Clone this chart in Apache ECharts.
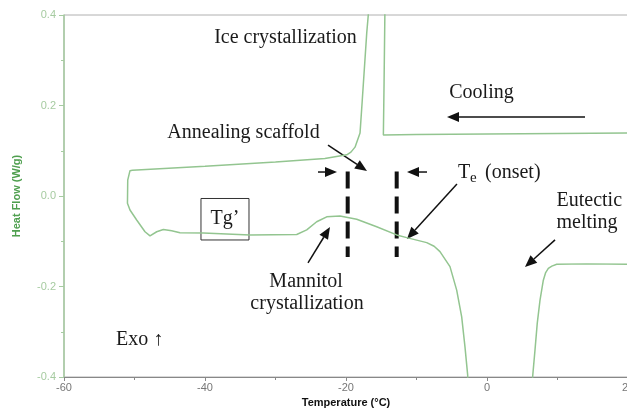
<!DOCTYPE html>
<html><head><meta charset="utf-8">
<script src="https://cdn.jsdelivr.net/npm/echarts@6/dist/echarts.min.js"></script>
<style>html,body{margin:0;padding:0;background:#fff}#c{width:627px;height:410px}</style>
</head><body><div id="c"></div>
<script>
// DSC thermogram (temperature in °C, heat flow in W/g)
const temperature = [20, 10, 0, -10, -14.7, -14.6, -14.45, -16.8,
  -16.84, -17.06, -17.69, -18.01, -18.72, -19.3, -19.9, -23, -30, -40, -50.3, -50.64,
  -50.96, -51.0, -50.64, -49.69, -48.51, -47.8, -46.85, -45.91, -44.72, -43.55,
  -40.24, -33.62, -26.99, -25.57, -24.16, -22.74, -20.85, -18.48, -15.65, -12.81,
  -11.39, -8.55, -7.5, -6.67, -5.25, -4.30, -3.59, -3.12, -2.74, -2.7,
  6.45, 6.48, 6.81, 7.13, 7.52, 7.99, 8.3, 8.70, 9.2, 9.89, 14.14, 20];
const heatFlow = [0.139, 0.138, 0.137, 0.136, 0.135, 0.25, 0.45, 0.45,
  0.40, 0.36, 0.212, 0.139, 0.108, 0.097, 0.091, 0.083, 0.075, 0.066, 0.057, 0.056,
  0.035, -0.016, -0.031, -0.053, -0.079, -0.088, -0.079, -0.074, -0.077, -0.081,
  -0.082, -0.086, -0.085, -0.075, -0.057, -0.046, -0.044, -0.0515, -0.068, -0.086,
  -0.092, -0.103, -0.111, -0.123, -0.156, -0.208, -0.267, -0.334, -0.396, -0.45,
  -0.45, -0.398, -0.340, -0.281, -0.230, -0.186, -0.170, -0.160, -0.155, -0.151, -0.150, -0.151];

const xTickValues = [-60, -40, -20, 0, 20];
const yTickValues = [-0.4, -0.2, 0.0, 0.2, 0.4];

// annotations, in data coordinates
const arrows = [
  [-22.55, 0.1127, -17.02, 0.0553],   // annealing scaffold
  [-23.97, 0.053, -21.28, 0.053],     // left small arrow
  [-8.51, 0.053, -11.35, 0.053],      // right small arrow
  [-4.26, 0.0265, -11.35, -0.095],    // Te onset
  [9.65, -0.097, 5.39, -0.157],       // eutectic melting
  [-25.39, -0.148, -22.27, -0.0685],  // mannitol
  [13.9, 0.1746, -5.67, 0.1746]       // cooling
];
const dashedLines = [[-19.76, 0.054, -19.76, -0.135], [-12.81, 0.054, -12.81, -0.135]];
const labels = [
  ['Ice crystallization', -28.58, 0.349, 'center'],
  ['Cooling', -0.78, 0.2276, 'center'],
  ['Annealing scaffold', -34.54, 0.1392, 'center'],
  ['Eutectic', 9.86, -0.0104, 'left'],
  ['melting', 9.86, -0.059, 'left'],
  ['Tg\u2019', -37.16, -0.0508, 'center'],
  ['Mannitol', -25.67, -0.189, 'center'],
  ['crystallization', -25.53, -0.2387, 'center'],
  ['Exo \u2191', -52.62, -0.318, 'left']
];
const tgBox = [-40.57, -0.0055, -33.76, -0.0972];
const teLabel = [-4.11, 0.051];

const chart = echarts.init(document.getElementById('c'));
const green = '#a6cba1';
chart.setOption({
  animation: false,
  grid: {left: 64, top: 15, width: 564, height: 362, show: true, borderColor: '#b0b0b0', borderWidth: 1,
    containLabel: false, outerBoundsMode: 'none'},
  xAxis: {
    type: 'value', min: -60, max: 20, interval: 20,
    name: 'Temperature (\u00b0C)', nameLocation: 'middle', nameGap: 15,
    nameTextStyle: {fontFamily: 'Liberation Sans', fontSize: 11, fontWeight: 'bold', color: '#111'},
    axisLine: {onZero: false, lineStyle: {color: '#888', width: 1}},
    axisTick: {length: 4, lineStyle: {color: '#888'}},
    minorTick: {show: true, splitNumber: 2, length: 3, lineStyle: {color: '#888'}},
    axisLabel: {fontFamily: 'Liberation Sans', fontSize: 11, color: '#777', margin: 5,
      formatter: v => xTickValues.includes(v) ? String(v) : ''},
    splitLine: {show: false}
  },
  yAxis: {
    type: 'value', min: -0.4, max: 0.4, interval: 0.2,
    name: 'Heat Flow (W/g)', nameLocation: 'middle', nameGap: 42,
    nameTextStyle: {fontFamily: 'Liberation Sans', fontSize: 11, fontWeight: 'bold', color: '#4f9f4f'},
    axisLine: {onZero: false, lineStyle: {color: green, width: 1.5}},
    axisTick: {length: 5, lineStyle: {color: green}},
    minorTick: {show: true, splitNumber: 2, length: 3, lineStyle: {color: green}},
    axisLabel: {fontFamily: 'Liberation Sans', fontSize: 11, color: green, margin: 8,
      formatter: v => { const m = yTickValues.find(t => Math.abs(t - v) < 1e-9); return m === undefined ? '' : m.toFixed(1); }},
    splitLine: {show: false}
  },
  series: [{
    type: 'line', showSymbol: false, clip: true,
    data: temperature.map((t, i) => [t, heatFlow[i]]),
    lineStyle: {color: '#93c590', width: 1.5}
  }]
});

const px = (x, y) => chart.convertToPixel({gridIndex: 0}, [x, y]);
const g = [];
const serif = '"Liberation Serif", "Times New Roman", serif';
const fs = 20;
arrows.forEach(a => {
  const p1 = px(a[0], a[1]), p2 = px(a[2], a[3]);
  const dx = p2[0] - p1[0], dy = p2[1] - p1[1], L = Math.hypot(dx, dy);
  const ux = dx / L, uy = dy / L, hl = 12, hw = 5;
  const bx = p2[0] - ux * hl, by = p2[1] - uy * hl;
  g.push({type: 'line', shape: {x1: p1[0], y1: p1[1], x2: bx, y2: by}, style: {stroke: '#111', lineWidth: 1.5}});
  g.push({type: 'polygon', shape: {points: [[p2[0], p2[1]], [bx - uy * hw, by + ux * hw], [bx + uy * hw, by - ux * hw]]}, style: {fill: '#111'}});
});
dashedLines.forEach(d => {
  const p1 = px(d[0], d[1]), p2 = px(d[2], d[3]);
  g.push({type: 'line', shape: {x1: p1[0], y1: p1[1], x2: p2[0], y2: p2[1]}, style: {stroke: '#111', lineWidth: 4, lineDash: [17, 8]}});
});
labels.forEach(l => {
  const p = px(l[1], l[2]);
  g.push({type: 'text', style: {text: l[0], x: p[0], y: p[1], font: fs + 'px ' + serif, fill: '#1a1a1a', align: l[3], verticalAlign: 'middle'}});
});
{
  const a = px(tgBox[0], tgBox[1]), b = px(tgBox[2], tgBox[3]);
  g.push({type: 'rect', shape: {x: a[0], y: a[1], width: b[0] - a[0], height: b[1] - a[1]}, style: {stroke: '#333', fill: 'none', lineWidth: 1}});
  const p = px(teLabel[0], teLabel[1]);
  g.push({type: 'text', style: {text: 'T', x: p[0], y: p[1], font: fs + 'px ' + serif, fill: '#1a1a1a', align: 'left', verticalAlign: 'middle'}});
  g.push({type: 'text', style: {text: 'e', x: p[0] + 12, y: p[1] + 5, font: '15px ' + serif, fill: '#1a1a1a', align: 'left', verticalAlign: 'middle'}});
  g.push({type: 'text', style: {text: '(onset)', x: p[0] + 27, y: p[1], font: fs + 'px ' + serif, fill: '#1a1a1a', align: 'left', verticalAlign: 'middle'}});
}
chart.setOption({graphic: g});
</script></body></html>
